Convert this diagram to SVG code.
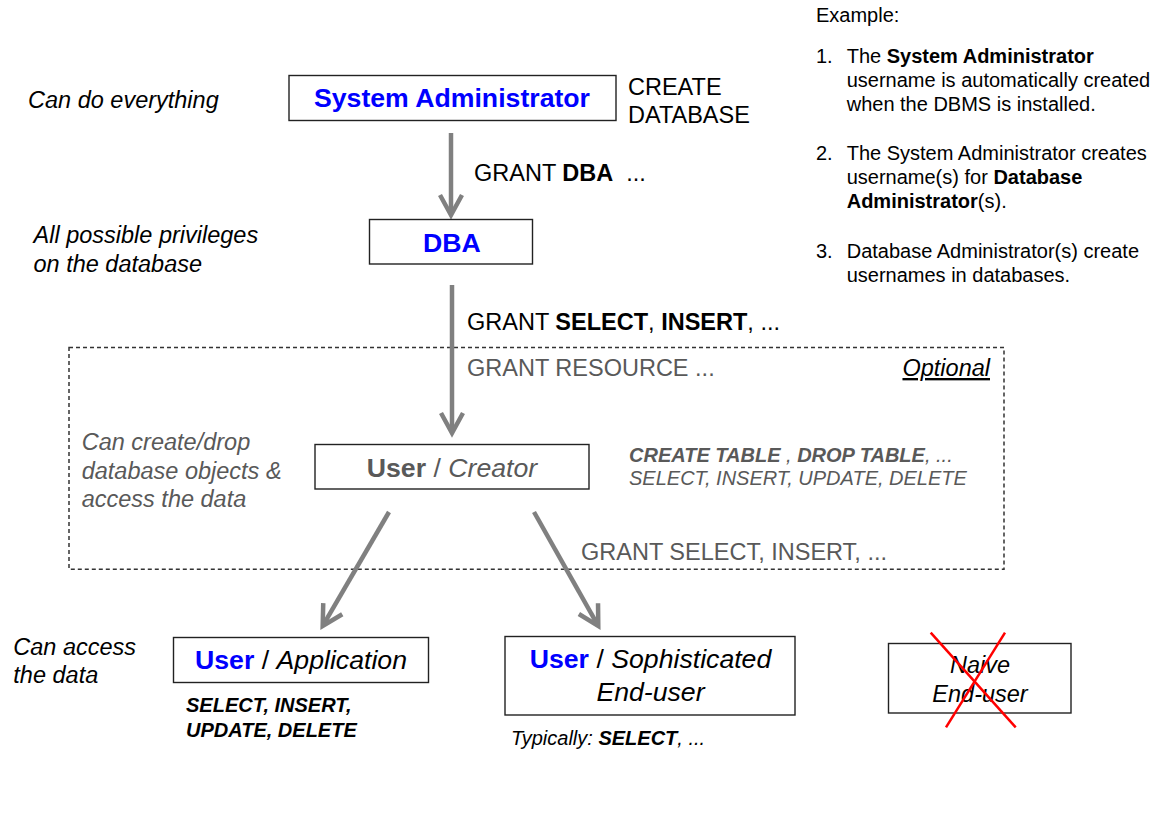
<svg xmlns="http://www.w3.org/2000/svg" width="1176" height="815" viewBox="0 0 1176 815">
<defs>
<style>
text{font-family:"Liberation Sans",Arial,sans-serif;fill:#000}
.lbl{font-size:23.5px;font-style:italic}
.gry{fill:#595959}
.box{fill:#fff;stroke:#222;stroke-width:1.4}
.bt{font-size:26.67px;text-anchor:middle}
.blue{fill:#0000ff;font-weight:bold}
.b{font-weight:bold}
.i{font-style:italic}
.g{font-size:23.5px}
.s20{font-size:20px}
.conn{fill:none;stroke:#808080;stroke-width:4.5;marker-end:url(#ah)}
</style>
<marker id="ah" markerUnits="userSpaceOnUse" orient="auto" refX="-3" refY="0" markerWidth="30" markerHeight="30" overflow="visible">
<path d="M-20,-11 L0,0 L-20,11" fill="none" stroke="#808080" stroke-width="4.5" stroke-linejoin="miter"/>
</marker>
</defs>
<rect width="1176" height="815" fill="#fff"/>

<g id="optional-region">
<rect x="69" y="347.5" width="935" height="221.8" fill="none" stroke="#333" stroke-width="1.5" stroke-dasharray="4,3"/>
<text x="990" y="376" class="lbl" text-anchor="end" text-decoration="underline">Optional</text>
</g>

<g id="connectors">
<line class="conn" x1="451" y1="133" x2="451" y2="212"/>
<line class="conn" x1="452" y1="285" x2="452" y2="430"/>
<line class="conn" x1="389" y1="512" x2="324.2" y2="623.4"/>
<line class="conn" x1="534" y1="512" x2="596.8" y2="623.4"/>
<text x="474" y="181" class="g">GRANT <tspan class="b">DBA</tspan><tspan dx="13">...</tspan></text>
<text x="467" y="330" class="g">GRANT <tspan class="b">SELECT</tspan>, <tspan class="b">INSERT</tspan>, ...</text>
<text x="467" y="376" class="g gry">GRANT RESOURCE ...</text>
<text x="581" y="559.5" class="g gry">GRANT SELECT, INSERT, ...</text>
</g>

<g id="sysadmin">
<rect class="box" x="289" y="75.5" width="327" height="45"/>
<text x="452" y="107" class="bt blue">System Administrator</text>
<text x="28" y="108" class="lbl">Can do everything</text>
<text x="628" y="95" class="g">CREATE</text>
<text x="628" y="123.3" class="g">DATABASE</text>
</g>

<g id="dba">
<rect class="box" x="369.5" y="219.5" width="163" height="44.5"/>
<text x="452" y="252" class="bt blue">DBA</text>
<text x="33.5" y="243.3" class="lbl">All possible privileges</text>
<text x="33.5" y="271.7" class="lbl">on the database</text>
</g>

<g id="creator">
<rect class="box" x="315" y="444.5" width="274" height="44.5"/>
<text x="452" y="476.7" class="bt gry"><tspan class="b">User</tspan> / <tspan class="i">Creator</tspan></text>
<text x="81.7" y="450" class="lbl gry">Can create/drop</text>
<text x="81.7" y="478.5" class="lbl gry">database objects &amp;</text>
<text x="81.7" y="506.5" class="lbl gry">access the data</text>
<text x="629" y="461.7" class="s20 i gry"><tspan class="b">CREATE TABLE</tspan> , <tspan class="b">DROP TABLE</tspan>, ...</text>
<text x="629" y="484.5" class="s20 i gry">SELECT, INSERT, UPDATE, DELETE</text>
</g>

<g id="application">
<rect class="box" x="173.5" y="637.5" width="255" height="45"/>
<text x="301" y="669.3" class="bt"><tspan class="blue">User</tspan> / <tspan class="i">Application</tspan></text>
<text x="13.3" y="655" class="lbl">Can access</text>
<text x="13.3" y="683" class="lbl">the data</text>
<text x="186" y="711.7" class="s20 b i">SELECT, INSERT,</text>
<text x="186" y="736.7" class="s20 b i">UPDATE, DELETE</text>
</g>

<g id="sophisticated">
<rect class="box" x="505" y="636.5" width="290" height="78.5"/>
<text x="650.5" y="668.3" class="bt"><tspan class="blue">User</tspan> / <tspan class="i">Sophisticated</tspan></text>
<text x="650.5" y="701" class="bt i">End-user</text>
<text x="511" y="744.5" class="s20 i">Typically: <tspan class="b">SELECT</tspan>, ...</text>
</g>

<g id="naive">
<rect class="box" x="888.5" y="643.5" width="182.5" height="69.5"/>
<text x="980" y="672.7" class="g i" text-anchor="middle">Naive</text>
<text x="980" y="701.7" class="g i" text-anchor="middle">End-user</text>
<line x1="930.7" y1="632.7" x2="1015.7" y2="727.3" stroke="#ff0000" stroke-width="2.5"/>
<line x1="1005" y1="632.7" x2="946" y2="727.3" stroke="#ff0000" stroke-width="2.5"/>
</g>

<g id="example-notes">
<text x="816" y="21.7" class="s20">Example:</text>
<text x="816" y="63.3" class="s20">1.</text>
<text x="846.7" y="63.3" class="s20">The <tspan class="b">System Administrator</tspan></text>
<text x="846.7" y="87.3" class="s20">username is automatically created</text>
<text x="846.7" y="111.3" class="s20">when the DBMS is installed.</text>
<text x="816" y="160" class="s20">2.</text>
<text x="846.7" y="160" class="s20">The System Administrator creates</text>
<text x="846.7" y="184.3" class="s20">username(s) for <tspan class="b">Database</tspan></text>
<text x="846.7" y="208.3" class="s20"><tspan class="b">Administrator</tspan>(s).</text>
<text x="816" y="257.7" class="s20">3.</text>
<text x="846.7" y="257.7" class="s20">Database Administrator(s) create</text>
<text x="846.7" y="281.7" class="s20">usernames in databases.</text>
</g>
</svg>
